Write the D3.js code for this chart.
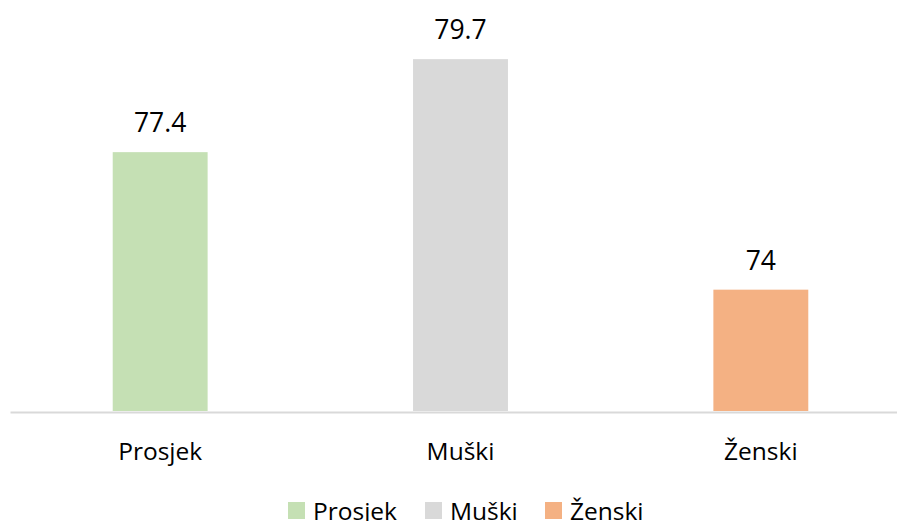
<!DOCTYPE html>
<html>
<head>
<meta charset="utf-8">
<script src="https://cdn.jsdelivr.net/npm/d3@7"></script>
<style>
  body { margin: 0; background: #fff; }
  svg { display: block; font-family: "Open Sans", sans-serif; }
</style>
</head>
<body>
<script>
// data
var categories = ["Prosjek", "Muški", "Ženski"];
var values = [77.4, 79.7, 74];
var colors = ["#c5e0b4", "#d9d9d9", "#f4b183"];

var width = 897, height = 521;
var baseY = 411;

var svg = d3.select("body").append("svg")
	.attr("width", width)
	.attr("height", height);

var x = d3.scaleBand()
	.domain(categories)
	.range([10, 911])
	.paddingInner(0.684)
	.paddingOuter(0.342);

var y = d3.scaleLinear()
	.domain([71, 80])
	.range([baseY, 47]);

// bars
svg.selectAll("rect.bar")
	.data(values)
	.enter()
	.append("rect")
	.attr("class", "bar")
	.attr("x", (d, i) => x(categories[i]))
	.attr("y", (d) => y(d))
	.attr("width", x.bandwidth())
	.attr("height", (d) => baseY - y(d))
	.attr("fill", (d, i) => colors[i]);

// value labels
svg.selectAll("text.val")
	.data(values)
	.enter()
	.append("text")
	.attr("class", "val")
	.attr("x", (d, i) => x(categories[i]) + x.bandwidth() / 2)
	.attr("y", (d) => y(d) - 20)
	.attr("text-anchor", "middle")
	.attr("font-size", "26.5px")
	.attr("fill", "#000")
	.text((d) => d);

// x axis
var xAxis = d3.axisBottom(x).tickSize(0).tickSizeOuter(0).tickPadding(0);
var gx = svg.append("g")
	.attr("transform", "translate(0," + (baseY + 1) + ")")
	.call(xAxis);
gx.select(".domain")
	.attr("stroke", "#d9d9d9")
	.attr("stroke-width", 2);
gx.selectAll("text")
	.attr("font-family", "Open Sans")
	.attr("font-size", "24.5px")
	.attr("fill", "#000")
	.attr("dy", 0)
	.attr("y", 48);

// legend
var legendX = [288, 425, 545];
var leg = svg.selectAll("g.leg")
	.data(categories)
	.enter()
	.append("g")
	.attr("class", "leg")
	.attr("transform", (d, i) => "translate(" + legendX[i] + ",502)");
leg.append("rect")
	.attr("width", 17)
	.attr("height", 17)
	.attr("fill", (d, i) => colors[i]);
leg.append("text")
	.attr("x", 25)
	.attr("y", 18)
	.attr("font-size", "24.5px")
	.attr("fill", "#000")
	.text((d) => d);
</script>
</body>
</html>
